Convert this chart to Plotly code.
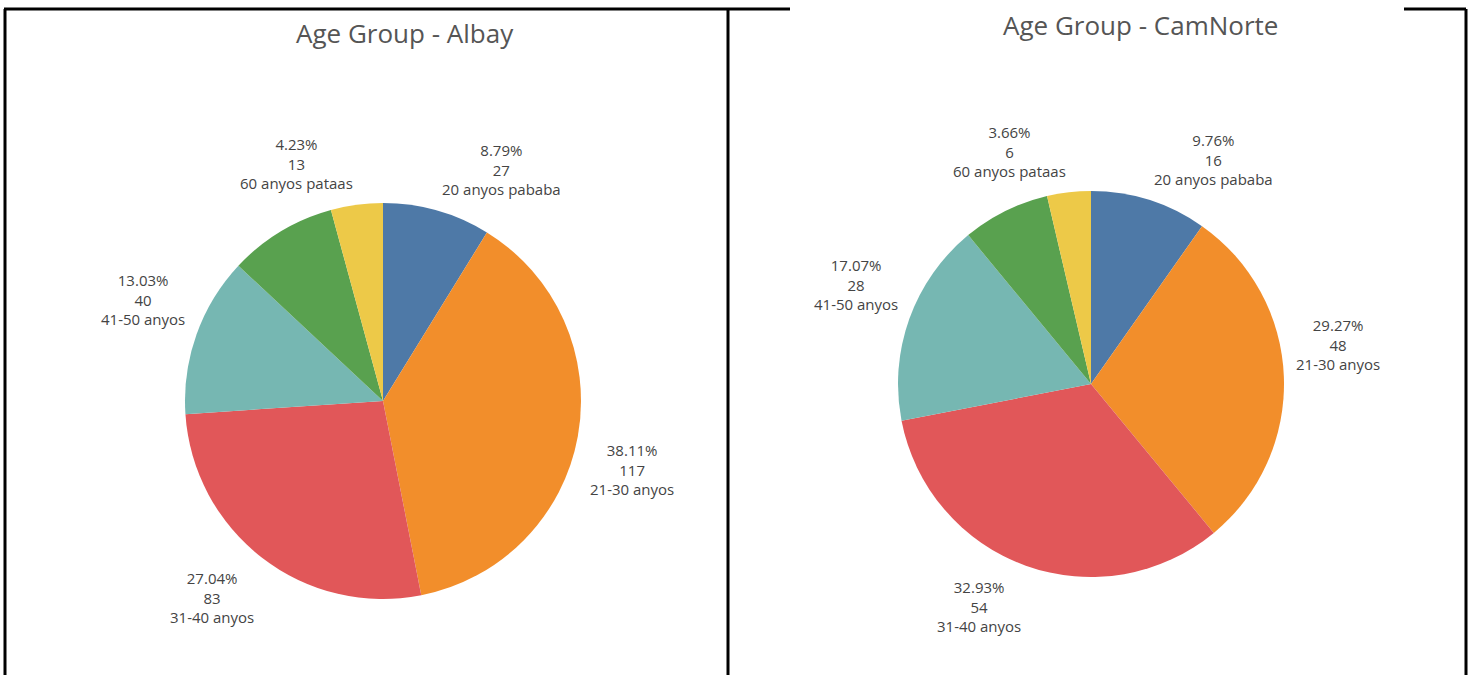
import math
import plotly.graph_objects as go

age_groups = ["20 anyos pababa", "21-30 anyos", "31-40 anyos", "41-50 anyos", "51-60 anyos", "60 anyos pataas"]
albay_counts = [27, 117, 83, 40, 27, 13]
camnorte_counts = [16, 48, 54, 28, 12, 6]
# the reference hides the label of the small green slice
show_label = [True, True, True, True, False, True]
colors = ["#4e79a7", "#f28e2b", "#e15759", "#76b7b2", "#59a14f", "#edc948"]
titles = ["Age Group - Albay", "Age Group - CamNorte"]

W, H = 1474, 675
# pie centres / radii in pixels (layout)
pies = [dict(cx=383, cy=401, r=198), dict(cx=1091, cy=384, r=193)]
title_pos = [(405, 33), (1140, 25)]

fig = go.Figure()
annotations = []
for counts, p in zip([albay_counts, camnorte_counts], pies):
    dom = dict(x=[(p["cx"] - p["r"]) / W, (p["cx"] + p["r"]) / W],
               y=[1 - (p["cy"] + p["r"]) / H, 1 - (p["cy"] - p["r"]) / H])
    fig.add_trace(go.Pie(
        labels=age_groups, values=counts, sort=False, direction="clockwise", rotation=0,
        marker=dict(colors=colors, line=dict(width=0)),
        textinfo="none", domain=dom, showlegend=False, hoverinfo="label+value+percent",
    ))
    tot = sum(counts)
    cum = 0
    for g, c, s in zip(age_groups, counts, show_label):
        mid = (cum + c / 2) / tot * 2 * math.pi
        cum += c
        if not s:
            continue
        rr = p["r"] * 1.05
        px = p["cx"] + rr * math.sin(mid)
        py = p["cy"] - rr * math.cos(mid)
        annotations.append(dict(
            text=f"{c/tot*100:.2f}%<br>{c}<br>{g}", x=px / W, y=1 - py / H,
            xref="paper", yref="paper", showarrow=False, align="center",
            xanchor="left" if math.sin(mid) >= 0 else "right",
            yanchor="bottom" if math.cos(mid) >= 0 else "top",
            font=dict(family="Open Sans", size=15, color="#444"),
        ))

for t, (tx, ty) in zip(titles, title_pos):
    annotations.append(dict(text=t, x=tx / W, y=1 - ty / H, xref="paper", yref="paper", showarrow=False,
                            font=dict(family="Open Sans", size=26, color="#555"),
                            xanchor="center", yanchor="middle"))

def seg(x0, y0, x1, y1):
    return dict(type="line", xref="paper", yref="paper", x0=x0 / W, y0=1 - y0 / H, x1=x1 / W, y1=1 - y1 / H,
                line=dict(color="black", width=3))

shapes = [
    seg(4, 9, 790, 9), seg(5, 9, 5, 675), seg(728, 9, 728, 675),
    seg(1404, 9, 1466, 9), seg(1466, 9, 1466, 675),
]

fig.update_layout(width=W, height=H, margin=dict(l=0, r=0, t=0, b=0),
                  paper_bgcolor="white", plot_bgcolor="white",
                  annotations=annotations, shapes=shapes)
fig.write_html("out.html", config={"displayModeBar": False},
               post_script="document.body.style.margin='0';document.body.style.overflow='hidden';")
